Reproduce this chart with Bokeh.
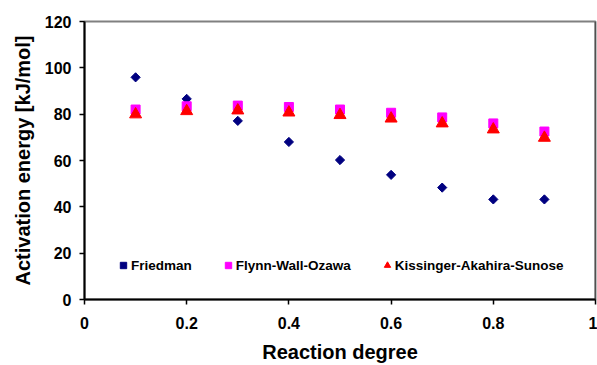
import math
from bokeh.plotting import figure
from bokeh.models import Legend, LegendItem, Span, FixedTicker, Range1d, ColumnDataSource
from bokeh.embed import file_html
from bokeh.resources import INLINE

# data
alpha = [0.1, 0.2, 0.3, 0.4, 0.5, 0.6, 0.7, 0.8, 0.9]
friedman = [95.9, 86.6, 77.1, 68.0, 60.2, 53.8, 48.3, 43.2, 43.2]
fwo = [82.0, 83.4, 83.7, 83.1, 82.0, 80.6, 78.6, 76.0, 72.5]
kas = [79.9, 81.3, 81.6, 80.7, 79.6, 78.1, 76.0, 73.4, 69.8]
x_ticks = [0, 0.2, 0.4, 0.6, 0.8, 1]
y_ticks = [0, 20, 40, 60, 80, 100, 120]

FONT = "Liberation Sans"

p = figure(width=597, height=365, output_backend="svg", toolbar_location=None,
           x_range=Range1d(0, 1), y_range=Range1d(0, 120),
           min_border_left=84, min_border_right=2, min_border_top=21, min_border_bottom=65)
p.grid.visible = False
p.background_fill_color = "white"
p.border_fill_color = "white"
p.outline_line_color = "#808080"
p.outline_line_width = 2

src_f = ColumnDataSource(dict(x=alpha, y=friedman, a=[math.pi / 4] * len(alpha)))
r1 = p.scatter("x", "y", source=src_f, marker="square", angle="a", size=6.5, color="#000080")
r2 = p.scatter(alpha, fwo, marker="square", size=9, color="#FF00FF")
r3 = p.scatter(alpha, kas, marker="triangle", size=12, color="#FF0000")

p.add_layout(Span(location=1, dimension="height", line_color="#202020", line_width=1.5))

for ax in (p.xaxis[0], p.yaxis[0]):
    ax.axis_line_color = "black"
    ax.axis_line_width = 2
    ax.major_tick_line_color = "black"
    ax.major_tick_line_width = 1.5
    ax.major_tick_out = 5
    ax.major_tick_in = 0
    ax.minor_tick_line_color = None
    ax.major_label_text_font = FONT
    ax.major_label_text_font_style = "bold"
    ax.major_label_text_font_size = "16px"
    ax.major_label_text_color = "black"
    ax.axis_label_text_font = FONT
    ax.axis_label_text_font_style = "bold"
    ax.axis_label_text_font_size = "20px"
    ax.axis_label_text_color = "black"

p.xaxis[0].ticker = FixedTicker(ticks=x_ticks)
p.yaxis[0].ticker = FixedTicker(ticks=y_ticks)
p.xaxis[0].major_label_overrides = {0: "0", 1: "1"}
p.xaxis[0].axis_label = "Reaction degree"
p.yaxis[0].axis_label = "Activation energy [kJ/mol]"
p.xaxis[0].major_label_standoff = 12
p.yaxis[0].major_label_standoff = 8
p.xaxis[0].axis_label_standoff = 9
p.xaxis[0].axis_label_text_line_height = 1.0
p.xaxis[0].major_label_text_line_height = 1.0
p.yaxis[0].axis_label_standoff = 8

legend = Legend(items=[LegendItem(label="Friedman", renderers=[r1], index=0),
                       LegendItem(label="Flynn-Wall-Ozawa", renderers=[r2]),
                       LegendItem(label="Kissinger-Akahira-Sunose", renderers=[r3])],
                orientation="horizontal", location=(31, 24),
                glyph_width=16, glyph_height=20, label_standoff=0, spacing=28,
                padding=0, margin=0, border_line_color=None, background_fill_alpha=0,
                label_text_font=FONT, label_text_font_style="bold",
                label_text_font_size="13.5px", label_text_color="black")
p.add_layout(legend)

open("out.html", "w").write(file_html(p, INLINE))
